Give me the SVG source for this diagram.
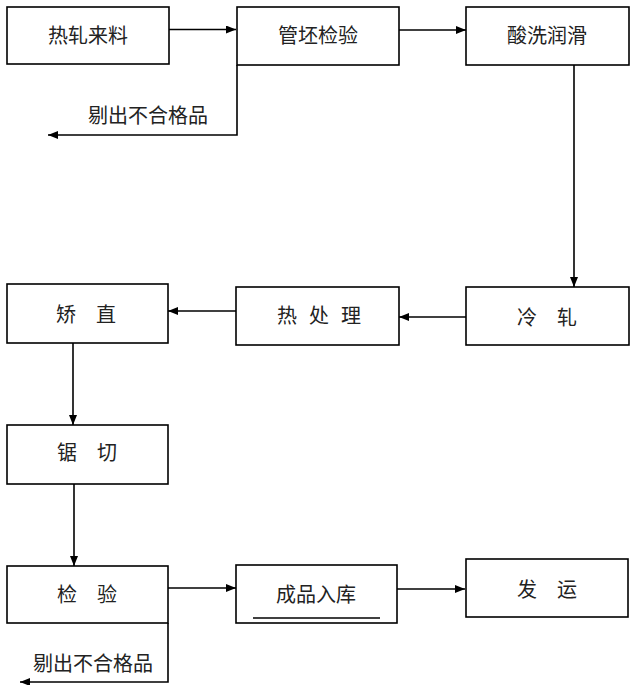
<svg xmlns="http://www.w3.org/2000/svg" width="638" height="685" viewBox="0 0 638 685">
<defs>
<marker id="arr" viewBox="0 0 10 8" refX="10" refY="4" markerWidth="10" markerHeight="8" markerUnits="userSpaceOnUse" orient="auto">
<path d="M0,0 L10,4 L0,8 Z" fill="#000"/>
</marker>
<style>
.box{fill:#fff;stroke:#000;stroke-width:1.6}
.t{font-family:"Noto Sans CJK SC","Noto Sans",sans-serif;font-size:20px;fill:#222;text-anchor:middle}
.c{fill:none;stroke:#000;stroke-width:1.6}
</style>
</defs>
<rect width="638" height="685" fill="#fff"/>
<g id="connectors">
<line class="c" x1="169" y1="29.5" x2="236" y2="29.5" marker-end="url(#arr)"/>
<line class="c" x1="399" y1="30" x2="466" y2="30" marker-end="url(#arr)"/>
<polyline class="c" points="237,65 237,135 48,135" marker-end="url(#arr)"/>
<line class="c" x1="574" y1="65" x2="574" y2="287" marker-end="url(#arr)"/>
<line class="c" x1="466" y1="317" x2="399" y2="317" marker-end="url(#arr)"/>
<line class="c" x1="236" y1="311" x2="168" y2="311" marker-end="url(#arr)"/>
<line class="c" x1="73" y1="343" x2="73" y2="425" marker-end="url(#arr)"/>
<line class="c" x1="74" y1="484" x2="74" y2="566" marker-end="url(#arr)"/>
<line class="c" x1="168" y1="588" x2="236" y2="588" marker-end="url(#arr)"/>
<line class="c" x1="397" y1="589" x2="465" y2="589" marker-end="url(#arr)"/>
<polyline class="c" points="168,623 168,682 20,682" marker-end="url(#arr)"/>
<text class="t" x="148" y="123">剔出不合格品</text>
<text class="t" x="93" y="671">剔出不合格品</text>
</g>
<g id="n1"><rect class="box" x="7" y="7" width="162" height="57"/><text class="t" x="88" y="43">热轧来料</text></g>
<g id="n2"><rect class="box" x="237" y="7" width="162" height="58"/><text class="t" x="318" y="43">管坯检验</text></g>
<g id="n3"><rect class="box" x="466" y="7" width="163" height="58"/><text class="t" x="547" y="43">酸洗润滑</text></g>
<g id="n4"><rect class="box" x="466" y="287" width="163" height="58"/><text class="t" x="547" y="325">冷　轧</text></g>
<g id="n5"><rect class="box" x="236" y="287" width="163" height="58"/><text class="t" x="319" y="323">热<tspan dx="12">处</tspan><tspan dx="12">理</tspan></text></g>
<g id="n6"><rect class="box" x="7" y="284" width="161" height="59"/><text class="t" x="86" y="322">矫　直</text></g>
<g id="n7"><rect class="box" x="7" y="425" width="161" height="59"/><text class="t" x="87" y="460">锯　切</text></g>
<g id="n8"><rect class="box" x="7" y="566" width="161" height="57"/><text class="t" x="87" y="602">检　验</text></g>
<g id="n9"><rect class="box" x="236" y="565" width="161" height="58"/><text class="t" x="316" y="602">成品入库</text><line x1="253" y1="618" x2="380" y2="618" stroke="#000" stroke-width="1.4"/></g>
<g id="n10"><rect class="box" x="466" y="559" width="162" height="58"/><text class="t" x="547" y="597">发　运</text></g>
</svg>
